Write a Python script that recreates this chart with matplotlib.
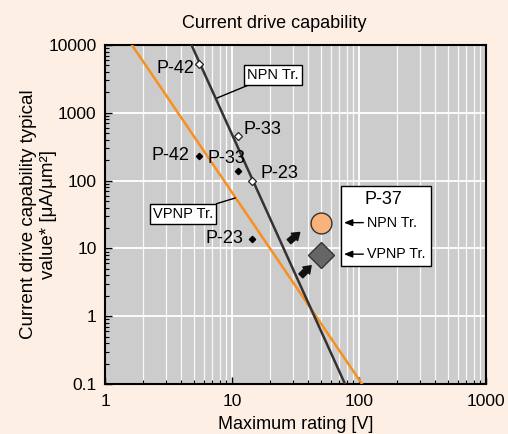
import numpy as np
import matplotlib
matplotlib.use('Agg')
import matplotlib.pyplot as plt
import matplotlib.ticker as ticker
from matplotlib.patches import Rectangle

plt.rcParams['font.family'] = ['Liberation Sans', 'DejaVu Sans']

# Trend lines (end points read at the plot edges)
npn_line_v = [4.8, 77.6]
npn_line_i = [10000, 0.1]
vpnp_line_v = [1.63, 105.6]
vpnp_line_i = [10000, 0.1]

# Products
products = ['P-42', 'P-33', 'P-23']
npn_v = [5.5, 11.1, 14.3]
npn_i = [5250, 455, 100]
vpnp_v = [5.5, 11.1, 14.3]
vpnp_i = [233, 140, 13.8]

# P-37
p37_v = 50
p37_npn_i = 23.7
p37_vpnp_i = 8.0

bg = '#fdefe4'
fig = plt.figure(figsize=(5.08, 4.34), dpi=100, facecolor=bg)
ax = fig.add_axes([0.2067, 0.1152, 0.75, 0.7811])
ax.set_facecolor('#cccccc')
ax.set_xscale('log')
ax.set_yscale('log')
ax.set_xlim(1, 1000)
ax.set_ylim(0.1, 10000)

# grid
ax.grid(True, which='major', axis='both', color='white', lw=1.3)
ax.grid(True, which='minor', axis='x', color='white', lw=0.9, alpha=0.9)
ax.set_axisbelow(True)

fmt = ticker.FuncFormatter(lambda v, p: '%g' % v)
ax.xaxis.set_major_formatter(fmt)
ax.yaxis.set_major_formatter(fmt)
ax.xaxis.set_minor_formatter(ticker.NullFormatter())
ax.yaxis.set_minor_locator(ticker.LogLocator(base=10, subs=np.arange(2, 10), numticks=20))
ax.tick_params(which='both', direction='in', top=False, right=False, labelsize=12.5)
ax.tick_params(axis='x', pad=7)
ax.tick_params(axis='y', pad=6)
ax.tick_params(which='major', length=5, width=1)
ax.tick_params(which='minor', length=3, width=0.8)
for s in ax.spines.values():
    s.set_linewidth(1.5)

# lines
ax.plot(vpnp_line_v, vpnp_line_i, color='#f7901e', lw=1.8, zorder=3)
ax.plot(npn_line_v, npn_line_i, color='#333333', lw=1.8, zorder=3)

# points
ax.plot(npn_v, npn_i, 'D', ms=4.2, mfc='white', mec='#222222', mew=0.9, zorder=5)
ax.plot(vpnp_v, vpnp_i, 'D', ms=3.2, mfc='black', mec='black', zorder=5)

npn_offsets = [(-3, -3, 'right'), (4, 5, 'left'), (6, 5, 'left')]
vpnp_offsets = [(-7, 0, 'right'), (-22, 9, 'left'), (-6, 0, 'right')]
for name, x, y, (dx, dy, ha) in zip(products, npn_v, npn_i, npn_offsets):
    ax.annotate(name, (x, y), xytext=(dx, dy), textcoords='offset points',
                ha=ha, va='center', fontsize=13, zorder=6)
for name, x, y, (dx, dy, ha) in zip(products, vpnp_v, vpnp_i, vpnp_offsets):
    ax.annotate(name, (x, y), xytext=(dx, dy), textcoords='offset points',
                ha=ha, va='center', fontsize=13, zorder=6)

# P-37 markers
ax.plot([p37_v], [p37_npn_i], 'o', ms=15, mfc='#f9b27a', mec='#333333', mew=1, zorder=5)
ax.plot([p37_v], [p37_vpnp_i], 'D', ms=13, mfc='#666666', mec='#333333', mew=1, zorder=5)

# fat arrows toward P-37
for (x0, y0, x1, y1) in [(0.483, 0.420, 0.511, 0.447), (0.514, 0.319, 0.541, 0.349)]:
    ax.annotate('', xy=(x1, y1), xytext=(x0, y0), xycoords='axes fraction',
                arrowprops=dict(arrowstyle='simple,head_length=0.5,head_width=0.7,tail_width=0.4',
                                fc='#111111', ec='#111111', shrinkA=0, shrinkB=0), zorder=6)

# line labels
bbox = dict(boxstyle='square,pad=0.2', fc='white', ec='black', lw=1)
ax.annotate('NPN Tr.', xy=(7.62, 1652), xytext=(21.0, 3610), fontsize=10.5,
            ha='center', va='center', bbox=bbox,
            arrowprops=dict(arrowstyle='-', color='black', lw=1, shrinkA=0, shrinkB=0), zorder=6)
ax.annotate('VPNP Tr.', xy=(10.6, 55.4), xytext=(4.11, 32.2), fontsize=10.5,
            ha='center', va='center', bbox=bbox,
            arrowprops=dict(arrowstyle='-', color='black', lw=1, shrinkA=0, shrinkB=0), zorder=6)

# P-37 box
ax.add_patch(Rectangle((0.619, 0.348), 0.237, 0.236, transform=ax.transAxes,
                       fc='white', ec='black', lw=1, zorder=6))
ax.text(0.730, 0.543, 'P-37', transform=ax.transAxes, ha='center', va='center',
        fontsize=13, zorder=7)
for yy, lab in [(0.476, 'NPN Tr.'), (0.383, 'VPNP Tr.')]:
    ax.annotate('', xy=(0.627, yy), xytext=(0.678, yy), xycoords='axes fraction',
                arrowprops=dict(arrowstyle='-|>,head_length=0.5,head_width=0.2', color='black',
                                lw=1, shrinkA=0, shrinkB=0), zorder=7)
    ax.text(0.688, yy, lab, transform=ax.transAxes, ha='left', va='center',
            fontsize=10.3, zorder=7)

ax.set_title('Current drive capability', fontsize=13, x=0.444, pad=12)
ax.set_xlabel('Maximum rating [V]', fontsize=13, labelpad=5)
ax.set_ylabel('Current drive capability typical\nvalue* [\u03bcA/\u03bcm\u00b2]', fontsize=13.5,
              linespacing=1.25)
ax.yaxis.set_label_coords(-0.125, 0.5)

fig.savefig('out.png', dpi=100, facecolor=bg)
